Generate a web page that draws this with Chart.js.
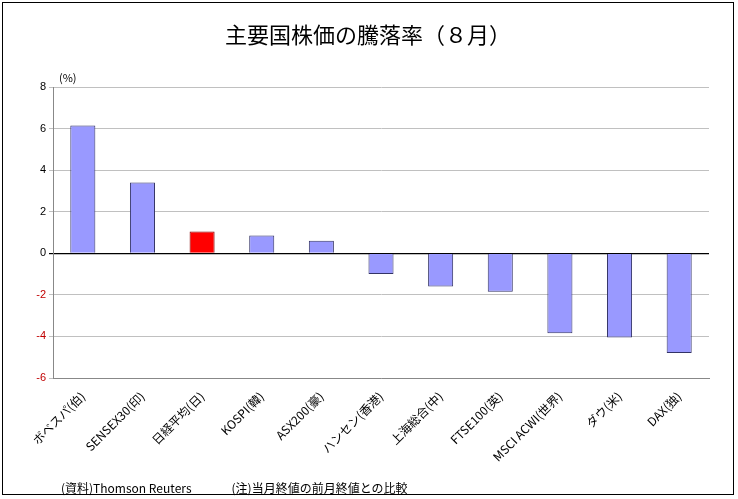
<!DOCTYPE html>
<html><head><meta charset="utf-8">
<script src="https://cdn.jsdelivr.net/npm/chart.js@4"></script>
<style>
body{margin:0;background:#fff;font-family:"Noto Sans CJK JP",sans-serif}
#wrap{position:absolute;left:2px;top:2px;width:732px;height:493px;border:1px solid #000;box-sizing:border-box}
#title{position:absolute;left:0;width:100%;top:14px;text-align:center;font-size:22px;color:#000}
#unit{position:absolute;left:56px;top:66px;font-size:11px}
#note{position:absolute;left:58px;top:476px;font-size:12px}
#note span{margin-left:40px}
canvas{position:absolute;left:0;top:0}
</style></head><body>
<div id="wrap"><canvas id="c" width="732" height="493"></canvas>
<div id="title">主要国株価の騰落率（８月）</div>
<div id="unit">(%)</div>
<div id="note">(資料)Thomson Reuters<span>(注)当月終値の前月終値との比較</span></div></div>
<script>
const categories = ['ボベスパ(伯)','SENSEX30(印)','日経平均(日)','KOSPI(韓)','ASX200(豪)','ハンセン(香港)','上海総合(中)','FTSE100(英)','MSCI ACWI(世界)','ダウ(米)','DAX(独)'];
const changes = [6.15, 3.4, 1.05, 0.85, 0.6, -1.0, -1.6, -1.85, -3.85, -4.05, -4.8];
const yTicks = [8, 6, 4, 2, 0, -2, -4, -6];

new Chart(document.getElementById('c'), {
  type: 'bar',
  data: {
    labels: categories,
    datasets: [{
      data: changes,
      backgroundColor: categories.map(c => c.startsWith('日経') ? '#ff0000' : '#9999ff'),
      borderColor: categories.map(c => c.startsWith('日経') ? '#800000' : '#333366'),
      borderWidth: 1,
      barPercentage: 0.42,
      categoryPercentage: 1
    }]
  },
  options: {
    responsive: false,
    animation: false,
    layout: { padding: { top: 84, right: 26, bottom: 0, left: 0 } },
    plugins: { legend: { display: false }, tooltip: { enabled: false } },
    scales: {
      x: {
        grid: { display: false },
        border: { color: '#888' },
        afterFit: s => { s.height = 118; },
        ticks: { maxRotation: 45, minRotation: 45, color: '#000', font: { size: 12, family: 'Noto Sans CJK JP' } }
      },
      y: {
        min: -6, max: 8,
        afterFit: s => { s.width = 50; },
        afterBuildTicks: s => { s.ticks = yTicks.map(v => ({ value: v })); },
        grid: { color: ctx => ctx.tick && ctx.tick.value === 0 ? '#000' : '#c0c0c0', lineWidth: ctx => ctx.tick && ctx.tick.value === 0 ? 1.2 : 1, drawTicks: true, tickLength: 4 },
        border: { color: '#888' },
        ticks: { color: ctx => ctx.tick.value < 0 ? '#c00000' : '#000', font: { size: 11 } }
      }
    }
  }
});
</script></body></html>
